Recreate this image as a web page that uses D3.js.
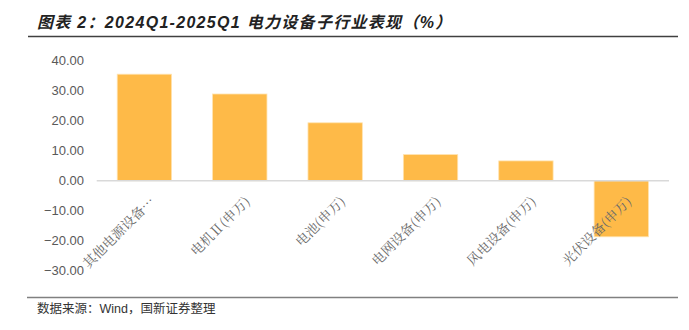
<!DOCTYPE html>
<html>
<head>
<meta charset="utf-8">
<script src="https://cdn.jsdelivr.net/npm/d3@7"></script>
<style>
  body { margin: 0; background: #fff; }
  svg text { font-family: "Liberation Sans", Arial, "Noto Sans CJK SC", sans-serif; }
</style>
</head>
<body>
<div id="chart"></div>
<script>
// sub-sector performance 2024Q1-2025Q1 (%)
var categories = ['其他电源设备…', '电机Ⅱ(申万)', '电池(申万)', '电网设备(申万)', '风电设备(申万)', '光伏设备(申万)'];
var values = [35.5, 28.9, 19.3, 8.7, 6.6, -18.7];
var yTicks = [40, 30, 20, 10, 0, -10, -20, -30];

var width = 689, height = 330;

var svg = d3.select('#chart').append('svg')
    .attr('width', width)
    .attr('height', height);

// title
svg.append('text')
    .attr('x', 37)
    .attr('y', 28)
    .style('font-family', '"Liberation Sans", "Noto Sans CJK SC", sans-serif')
    .style('font-size', '16px')
    .style('font-weight', 'bold')
    .style('font-style', 'italic')
    .style('letter-spacing', '1.3px')
    .style('fill', '#222')
    .text('图表 2：2024Q1-2025Q1 电力设备子行业表现（%）');

svg.append('line')
    .attr('x1', 28).attr('x2', 678)
    .attr('y1', 36.5).attr('y2', 36.5)
    .style('stroke', '#404040')
    .style('stroke-width', 1.5);

var x = d3.scaleBand()
    .domain(categories)
    .range([96.7, 669])
    .paddingInner(0.43)
    .paddingOuter(0.215);

var y = d3.scaleLinear()
    .domain([-30, 40])
    .range([270.7, 60.7]);

// y axis labels
var yAxis = svg.append('g')
    .attr('transform', 'translate(84,0)')
    .call(d3.axisLeft(y).tickValues(yTicks).tickSize(0).tickPadding(0)
      .tickFormat(d3.format('.2f')));
yAxis.select('.domain').remove();
yAxis.selectAll('text')
    .style('font-size', '13px')
    .style('fill', '#595959');

// bars
svg.selectAll('.bar')
    .data(values)
    .enter()
    .append('rect')
    .attr('class', 'bar')
    .attr('x', function (d, i) { return x(categories[i]); })
    .attr('width', x.bandwidth())
    .attr('y', function (d) { return d >= 0 ? y(d) : y(0); })
    .attr('height', function (d) { return Math.abs(y(d) - y(0)); })
    .style('fill', '#FEBA48')
    .style('stroke', '#FFE3B0')
    .style('stroke-width', 0.8);

// zero line
svg.append('line')
    .attr('x1', 96.7).attr('x2', 669)
    .attr('y1', y(0)).attr('y2', y(0))
    .style('stroke', '#d9d9d9')
    .style('stroke-width', 1.5);

// category labels
svg.selectAll('.cat')
    .data(categories)
    .enter()
    .append('text')
    .attr('class', 'cat')
    .attr('transform', function (d) {
      var cx = x(d) + x.bandwidth() / 2;
      return 'translate(' + (cx + 4) + ',195) rotate(-45)';
    })
    .attr('dy', '0.75em')
    .attr('text-anchor', 'end')
    .style('font-family', '"Noto Serif CJK SC", "Noto Sans CJK SC", serif')
    .style('font-size', '13.5px')
    .style('fill', '#6a6a6a')
    .text(function (d) { return d; });

// source
svg.append('line')
    .attr('x1', 27).attr('x2', 678)
    .attr('y1', 297.5).attr('y2', 297.5)
    .style('stroke', '#808080')
    .style('stroke-width', 1.5);

svg.append('text')
    .attr('x', 37)
    .attr('y', 313)
    .style('font-family', '"Liberation Sans", "Noto Sans CJK SC", sans-serif')
    .style('font-size', '12.5px')
    .style('fill', '#333')
    .text('数据来源：Wind，国新证券整理');
</script>
</body>
</html>
